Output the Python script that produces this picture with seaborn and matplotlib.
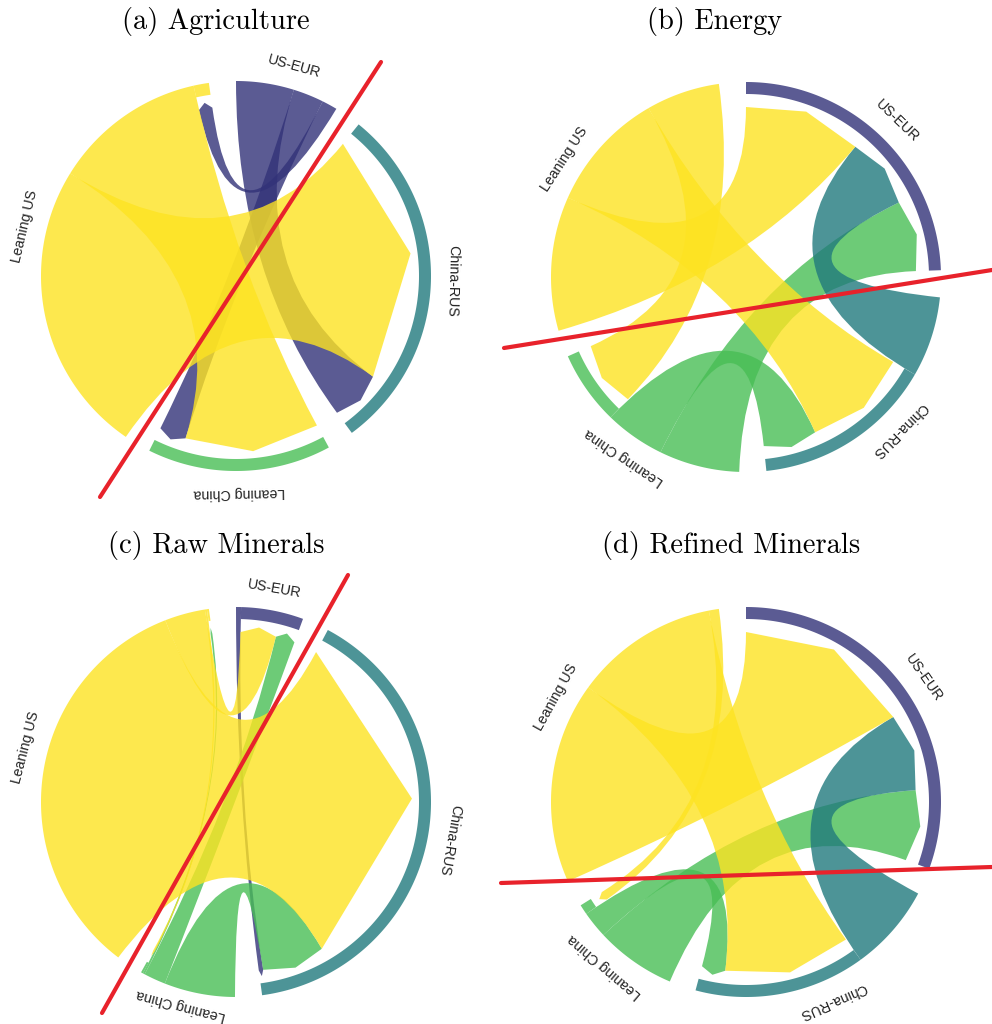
import numpy as np
import matplotlib
matplotlib.use("Agg")
import matplotlib.pyplot as plt
from matplotlib.path import Path
from matplotlib.patches import PathPatch, Polygon
import seaborn as sns

# groups, in the order they go round the circle (clockwise from 12 o'clock)
groups = ["US-EUR", "China-RUS", "Leaning China", "Leaning US"]
group_colors = ["#323278", "#217a7d", "#48be55", "#fde322"]

titles = ["(a) Agriculture", "(b) Energy", "(c) Raw Minerals", "(d) Refined Minerals"]

# flows[source][target] (about one degree per unit)
agri = [[0, 17, 9, 4.5],
        [0, 0, 0, 0],
        [0, 0, 0, 0],
        [0, 86, 45, 0]]
energy = [[0, 0, 0, 0],
          [24, 0, 0, 0],
          [24, 18, 0, 0],
          [40, 36, 22, 0]]
raw = [[0, 1.5, 0, 0],
       [0, 0, 0, 0],
       [6.5, 21, 0, 0.6],
       [12, 121, 0.6, 0]]
refined = [[0, 0, 0, 0],
           [26, 0, 0, 0],
           [24, 8, 0, 0],
           [60, 43, 3, 0]]

# red cut lines, start/end in pixels
cut_x = [[100, 381], [504, 992], [102, 348], [501, 992]]
cut_y = [[497, 62], [348, 270], [1013, 575], [883, 867]]

# panel layout (pixels)
centers = [(236, 276), (746, 277), (236, 802), (746, 802)]
title_pos = [(216, 22), (715, 22), (216, 546), (731, 546)]
R = 195.0
R_IN = 183.0
R_TIP = 176.0
R_BASE = 170.0
R_LABEL = 217.0
PAD = 8.0
ALPHA = 0.8
DRAW_ORDER = [0, 2, 1, 3]
LABEL_YMAX = 1005  # keep bottom labels inside the figure


def chord_layout(m, pad=PAD):
    """angles (deg, clockwise from top) for every chord end and group"""
    m = np.asarray(m, float)
    n = len(m)
    sums = m.sum(1) + m.sum(0)
    k = (360.0 - n * pad) / sums.sum()
    src, tgt, spans = {}, {}, []
    x = 0.0
    for i in range(n):
        x0 = x
        outs = sorted([j for j in range(n) if m[i, j] > 0], key=lambda j: -m[i, j])
        ins = sorted([j for j in range(n) if m[j, i] > 0], key=lambda j: -m[j, i])
        for j in outs:
            src[i, j] = (x, x + m[i, j] * k)
            x += m[i, j] * k
        in0 = x
        for j in ins:
            tgt[j, i] = (x, x + m[j, i] * k)
            x += m[j, i] * k
        spans.append((x0, in0, x))
        x += pad
    return src, tgt, spans


def pt(c, r, a):
    a = np.radians(a)
    return (c[0] + r * np.sin(a), c[1] - r * np.cos(a))


def ribbon(c, s0, s1, t0, t1):
    arc = np.linspace(s0, s1, max(int((s1 - s0) * 2), 2))
    verts = [pt(c, R, a) for a in arc]
    codes = [Path.MOVETO] + [Path.LINETO] * (len(arc) - 1)
    verts += [c, pt(c, R_BASE, t0), pt(c, R_TIP, (t0 + t1) / 2),
              pt(c, R_BASE, t1), c, pt(c, R, s0), (0, 0)]
    codes += [Path.CURVE3, Path.CURVE3, Path.LINETO, Path.LINETO,
              Path.CURVE3, Path.CURVE3, Path.CLOSEPOLY]
    return Path(verts, codes)


def ring(c, a0, a1):
    arc = np.linspace(a0, a1, max(int((a1 - a0) * 2), 2))
    outer = [pt(c, R, a) for a in arc]
    inner = [pt(c, R_IN, a) for a in arc[::-1]]
    return outer + inner


sns.set_theme(style="white")
palette = sns.color_palette(group_colors)

fig = plt.figure(figsize=(9.92, 10.24), dpi=100)
ax = fig.add_axes([0, 0, 1, 1])
ax.set_xlim(0, 992)
ax.set_ylim(1024, 0)
ax.axis("off")

for p, flows in enumerate([agri, energy, raw, refined]):
    c = centers[p]
    src, tgt, spans = chord_layout(flows)

    # thin outer ring where a group receives flows
    for i, (g0, in0, g1) in enumerate(spans):
        if g1 - in0 > 0.01:
            ax.add_patch(Polygon(ring(c, in0, g1), closed=True, facecolor=palette[i],
                                 edgecolor="none", alpha=ALPHA))

    for i in DRAW_ORDER:
        for j in range(len(groups)):
            if (i, j) in src:
                s0, s1 = src[i, j]
                t0, t1 = tgt[i, j]
                ax.add_patch(PathPatch(ribbon(c, s0, s1, t0, t1), facecolor=palette[i],
                                       edgecolor="none", alpha=ALPHA))

    for i, (g0, in0, g1) in enumerate(spans):
        mid = (g0 + g1) / 2
        x, y = pt(c, R_LABEL, mid)
        y = min(y, LABEL_YMAX)
        ax.text(x, y, groups[i], rotation=-mid, rotation_mode="anchor",
                ha="center", va="center", fontsize=10.2,
                family="Liberation Sans", color="#222222")

    tx, ty = title_pos[p]
    ax.text(tx, ty, titles[p], ha="center", va="center", fontsize=20.5,
            family="cmr10", color="black")

for xs, ys in zip(cut_x, cut_y):
    ax.plot(xs, ys, color="#e8222b", linewidth=3.0, solid_capstyle="round")

fig.savefig("out.png", dpi=100)
